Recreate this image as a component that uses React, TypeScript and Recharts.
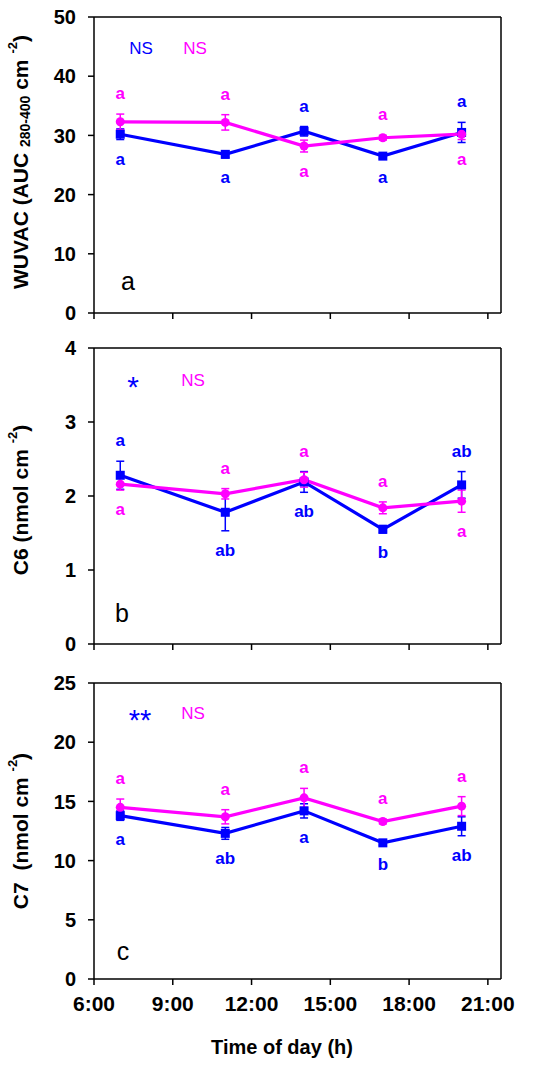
import React from 'react';
import {
  LineChart, Line, XAxis, YAxis, ErrorBar, LabelList, ReferenceLine, Customized,
} from 'recharts';

const BLUE = '#0000ff';
const PINK = '#ff00ff';
const FONT = '"Liberation Sans", Arial, sans-serif';

// sampling times (h)
const hours = [7, 11, 14, 17, 20];
const hourTicks = [6, 9, 12, 15, 18, 21];

// panel a: WUVAC
const wuvacBlue = [30.2, 26.8, 30.7, 26.5, 30.5];
const wuvacBlueErr = [0.9, 0.6, 0.8, 0.4, 1.7];
const wuvacPink = [32.3, 32.2, 28.2, 29.6, 30.2];
const wuvacPinkErr = [1.3, 1.3, 1.0, 0.4, 0.9];
const wuvacBlueLetters = ['a', 'a', 'a', 'a', 'a'];
const wuvacBlueSide = ['down', 'down', 'up', 'down', 'up'];
const wuvacPinkLetters = ['a', 'a', 'a', 'a', 'a'];
const wuvacPinkSide = ['up', 'up', 'down', 'up', 'down'];

// panel b: C6
const c6Blue = [2.28, 1.78, 2.19, 1.55, 2.15];
const c6BlueErr = [0.19, 0.25, 0.14, 0.05, 0.18];
const c6Pink = [2.16, 2.03, 2.22, 1.84, 1.93];
const c6PinkErr = [0.08, 0.07, 0.1, 0.08, 0.15];
const c6BlueLetters = ['a', 'ab', 'ab', 'b', 'ab'];
const c6BlueSide = ['up', 'down', 'down', 'down', 'up'];
const c6PinkLetters = ['a', 'a', 'a', 'a', 'a'];
const c6PinkSide = ['down', 'up', 'up', 'up', 'down'];

// panel c: C7
const c7Blue = [13.8, 12.3, 14.2, 11.5, 12.9];
const c7BlueErr = [0.4, 0.5, 0.6, 0.2, 0.8];
const c7Pink = [14.5, 13.7, 15.3, 13.3, 14.6];
const c7PinkErr = [0.7, 0.6, 0.8, 0.2, 0.8];
const c7BlueLetters = ['a', 'ab', 'a', 'b', 'ab'];
const c7BlueSide = ['down', 'down', 'down', 'down', 'down'];
const c7PinkLetters = ['a', 'a', 'a', 'a', 'a'];
const c7PinkSide = ['up', 'up', 'up', 'up', 'up'];

const PLOT_H = 296;

function buildData(blue: number[], blueErr: number[], pink: number[], pinkErr: number[]) {
  return hours.map((h, i) => ({ hour: h, blue: blue[i], blueErr: blueErr[i], pink: pink[i], pinkErr: pinkErr[i] }));
}

const Square = (props: any) => {
  const { cx, cy, index } = props;
  if (cx == null || cy == null) return <g key={index} />;
  return <rect key={index} x={cx - 4.5} y={cy - 4.5} width={9} height={9} fill={BLUE} />;
};

function letters(vals: number[], errs: number[], txt: string[], side: string[], color: string, ppu: number) {
  return (p: any) => {
    let i = p.index;
    if (i == null) i = vals.indexOf(Number(p.value));
    const off = errs[i] * ppu + 20;
    const cy = side[i] === 'up' ? p.y - off : p.y + off;
    return (
      <text key={i} x={p.x} y={cy + 5} textAnchor="middle" fill={color} fontSize={17} fontWeight="bold" fontFamily={FONT}>
        {txt[i]}
      </text>
    );
  };
}

type PanelProps = {
  top: number;
  height: number;
  marginTop: number;
  xHeight: number;
  yMax: number;
  yTicks: number[];
  blue: number[];
  blueErr: number[];
  pink: number[];
  pinkErr: number[];
  blueLetters: string[];
  blueSide: string[];
  pinkLetters: string[];
  pinkSide: string[];
  showX: boolean;
  overlay: () => React.ReactNode;
};

function Panel(p: PanelProps) {
  const data = buildData(p.blue, p.blueErr, p.pink, p.pinkErr);
  const ppu = PLOT_H / p.yMax;
  const axisStyle = { stroke: '#000', strokeWidth: 1.5 };
  return (
    <div style={{ position: 'absolute', left: 0, top: p.top }}>
      <LineChart width={550} height={p.height} data={data} margin={{ top: p.marginTop, right: 49, bottom: 0, left: 0 }}>
        <XAxis
          dataKey="hour"
          type="number"
          domain={[6, 21.5]}
          ticks={hourTicks}
          height={p.xHeight}
          axisLine={axisStyle}
          tickLine={axisStyle}
          tickSize={6}
          tickMargin={11}
          tickFormatter={(h: number) => (p.showX ? `${h}:00` : '')}
          tick={{ fill: '#000', fontSize: 21, fontWeight: 'bold', fontFamily: FONT }}
        />
        <YAxis
          domain={[0, p.yMax]}
          ticks={p.yTicks}
          width={94}
          axisLine={axisStyle}
          tickLine={axisStyle}
          tickSize={6}
          tickMargin={12}
          tick={{ fill: '#000', fontSize: 20, fontWeight: 'bold', fontFamily: FONT }}
        />
        <ReferenceLine y={p.yMax} stroke="#000" strokeWidth={1.5} />
        <ReferenceLine x={21.5} stroke="#000" strokeWidth={1.5} />
        <Line dataKey="blue" stroke={BLUE} strokeWidth={3.2} dot={Square} activeDot={false} isAnimationActive={false}>
          <ErrorBar dataKey="blueErr" width={4} stroke={BLUE} strokeWidth={1.5} direction="y" />
          <LabelList dataKey="blue" content={letters(p.blue, p.blueErr, p.blueLetters, p.blueSide, BLUE, ppu)} />
        </Line>
        <Line dataKey="pink" stroke={PINK} strokeWidth={3.2} dot={{ r: 4.5, fill: PINK, stroke: PINK, strokeWidth: 0 }} activeDot={false} isAnimationActive={false}>
          <ErrorBar dataKey="pinkErr" width={4} stroke={PINK} strokeWidth={1.5} direction="y" />
          <LabelList dataKey="pink" content={letters(p.pink, p.pinkErr, p.pinkLetters, p.pinkSide, PINK, ppu)} />
        </Line>
        <Customized component={p.overlay} />
      </LineChart>
    </div>
  );
}

const titleStyle = { fontFamily: FONT, fontWeight: 'bold' as const, fontSize: 21, fill: '#000', whiteSpace: 'pre' as const };

function YTitle({ cy, children }: { cy: number; children: React.ReactNode }) {
  return (
    <text x={20} y={cy} transform={`rotate(-90, 20, ${cy})`} textAnchor="middle" dominantBaseline="central" style={titleStyle}>
      {children}
    </text>
  );
}

const overlayA = () => (
  <g fontFamily={FONT}>
    <text x={141} y={54} textAnchor="middle" fill={BLUE} fontSize={17}>NS</text>
    <text x={195} y={54} textAnchor="middle" fill={PINK} fontSize={17}>NS</text>
    <text x={128} y={290} textAnchor="middle" fill="#000" fontSize={25}>a</text>
    <YTitle cy={162}>
      WUVAC (AUC <tspan fontSize={14} dy={5}>280-400</tspan><tspan dy={-5}> cm </tspan>
      <tspan fontSize={13} dy={-8}>-2</tspan><tspan dy={8}>)</tspan>
    </YTitle>
  </g>
);

const overlayB = () => (
  <g fontFamily={FONT}>
    <text x={133} y={67} textAnchor="middle" fill={BLUE} fontSize={30}>*</text>
    <text x={193} y={56} textAnchor="middle" fill={PINK} fontSize={17}>NS</text>
    <text x={122} y={292} textAnchor="middle" fill="#000" fontSize={25}>b</text>
    <YTitle cy={170}>
      C6 (nmol cm <tspan fontSize={13} dy={-8}>-2</tspan><tspan dy={8}>)</tspan>
    </YTitle>
  </g>
);

const overlayC = () => (
  <g fontFamily={FONT}>
    <text x={140} y={65} textAnchor="middle" fill={BLUE} fontSize={29}>**</text>
    <text x={193} y={54} textAnchor="middle" fill={PINK} fontSize={17}>NS</text>
    <text x={123} y={295} textAnchor="middle" fill="#000" fontSize={25}>c</text>
    <YTitle cy={166}>
      C7  (nmol cm <tspan fontSize={13} dy={-8}>-2</tspan><tspan dy={8}>)</tspan>
    </YTitle>
    <text x={282} y={389} textAnchor="middle" style={{ ...titleStyle, fontSize: 20 }}>Time of day (h)</text>
  </g>
);

export default function App() {
  return (
    <div style={{ position: 'absolute', left: 0, top: 0, width: 550, height: 1069, background: '#fff', fontFamily: FONT }}>
      <Panel
        top={0} height={330} marginTop={17} xHeight={17} yMax={50} yTicks={[0, 10, 20, 30, 40, 50]}
        blue={wuvacBlue} blueErr={wuvacBlueErr} pink={wuvacPink} pinkErr={wuvacPinkErr}
        blueLetters={wuvacBlueLetters} blueSide={wuvacBlueSide} pinkLetters={wuvacPinkLetters} pinkSide={wuvacPinkSide}
        showX={false} overlay={overlayA}
      />
      <Panel
        top={330} height={335} marginTop={18} xHeight={21} yMax={4} yTicks={[0, 1, 2, 3, 4]}
        blue={c6Blue} blueErr={c6BlueErr} pink={c6Pink} pinkErr={c6PinkErr}
        blueLetters={c6BlueLetters} blueSide={c6BlueSide} pinkLetters={c6PinkLetters} pinkSide={c6PinkSide}
        showX={false} overlay={overlayB}
      />
      <Panel
        top={665} height={404} marginTop={18} xHeight={90} yMax={25} yTicks={[0, 5, 10, 15, 20, 25]}
        blue={c7Blue} blueErr={c7BlueErr} pink={c7Pink} pinkErr={c7PinkErr}
        blueLetters={c7BlueLetters} blueSide={c7BlueSide} pinkLetters={c7PinkLetters} pinkSide={c7PinkSide}
        showX={true} overlay={overlayC}
      />
    </div>
  );
}
